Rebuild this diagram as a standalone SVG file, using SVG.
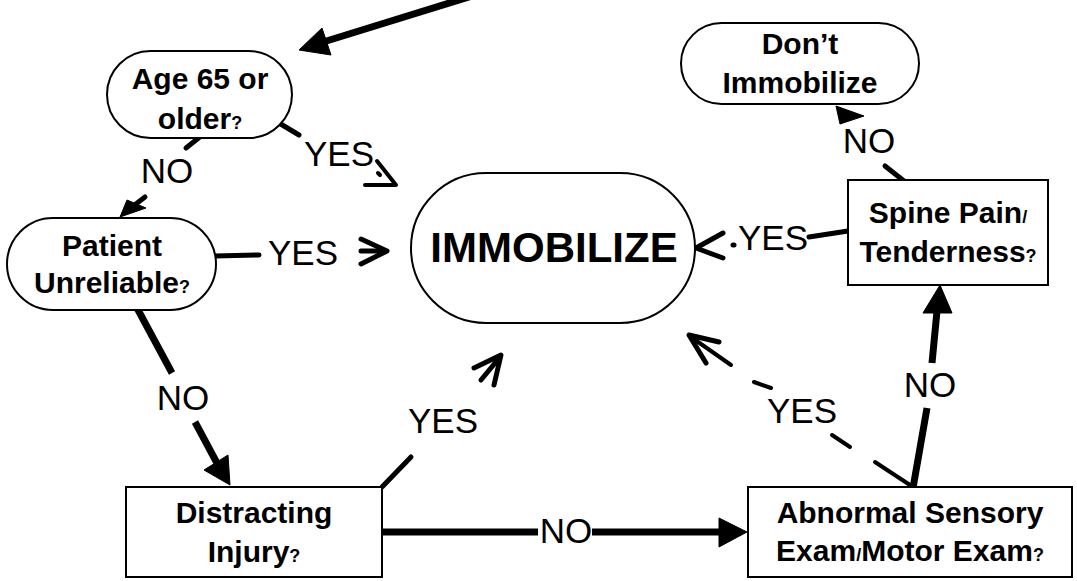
<svg xmlns="http://www.w3.org/2000/svg" width="1077" height="581" viewBox="0 0 1077 581">
<style>
.box{fill:#fff;stroke:#000;stroke-width:2}
.nt{font-family:"Liberation Sans",Arial,sans-serif;font-weight:bold;font-size:30px;text-anchor:middle;fill:#000}
.big{font-size:42px}
.q{font-size:18px}
.lbl{font-family:"Liberation Sans",Arial,sans-serif;font-size:35px;text-anchor:middle;fill:#000}
.ln{stroke:#000;stroke-width:5;fill:none;stroke-linecap:round;stroke-linejoin:round}
.thk{stroke-width:7;stroke-linecap:butt}
.thin{stroke-width:4}
.ah{fill:#000;stroke:#000;stroke-width:1;stroke-linejoin:round}
</style>
<rect width="1077" height="581" fill="#fff"/>
<g id="connectors">
  <!-- entry arrow -->
  <line class="ln thk" x1="472" y1="-4" x2="320" y2="43"/>
  <polygon class="ah" points="299,50 322,28 331,55"/>
  <!-- age -> patient NO -->
  <line class="ln" x1="201" y1="136" x2="186" y2="148"/>
  <line class="ln" x1="145" y1="197" x2="132" y2="207"/>
  <polygon class="ah" points="120,217 127,200 146,208"/>
  <!-- age -> immobilize YES -->
  <line class="ln" x1="279" y1="123" x2="299" y2="135"/>
  <polyline class="ln thin" points="377,161 396,185 365,185"/>
  <line class="ln thin" x1="378" y1="173" x2="380" y2="175"/>
  <!-- patient -> immobilize YES -->
  <line class="ln" x1="215" y1="256" x2="259" y2="255"/>
  <polyline class="ln" points="361,239 387,251 361,264"/>
  <line class="ln" x1="361" y1="251" x2="384" y2="251"/>
  <!-- patient -> distracting NO -->
  <line class="ln thk" x1="137" y1="308" x2="172" y2="373"/>
  <line class="ln thk" x1="195" y1="422" x2="218" y2="465"/>
  <polygon class="ah" points="230,485 204,470 228,455"/>
  <!-- distracting -> immobilize YES -->
  <line class="ln" x1="382" y1="487" x2="411" y2="457"/>
  <polyline class="ln" points="474,368 501,355 494,385"/>
  <line class="ln" x1="481" y1="380" x2="500" y2="357"/>
  <!-- distracting -> abnormal NO -->
  <line class="ln thk" x1="382" y1="532" x2="538" y2="532"/>
  <line class="ln thk" x1="592" y1="532" x2="721" y2="532"/>
  <polygon class="ah" points="747,532 719,518 719,547"/>
  <!-- abnormal -> spine NO -->
  <line class="ln thk" x1="913" y1="488" x2="927" y2="408"/>
  <line class="ln thk" x1="932" y1="363" x2="937" y2="311"/>
  <polygon class="ah" points="940,285 923,313 952,313"/>
  <!-- abnormal -> immobilize YES dashed -->
  <line class="ln thin" x1="913" y1="487" x2="875" y2="462"/>
  <line class="ln thin" x1="850" y1="447" x2="832" y2="435"/>
  <line class="ln thin" x1="771" y1="388" x2="754" y2="382"/>
  <line class="ln thin" x1="731" y1="365" x2="691" y2="337"/>
  <polyline class="ln" points="719,342 689,335 706,363"/>
  <!-- spine -> immobilize YES -->
  <line class="ln" x1="848" y1="231" x2="809" y2="237"/>
  <polyline class="ln" points="723,233 696,248 723,258"/>
  <line class="ln" x1="733" y1="245" x2="734" y2="245" stroke-width="3"/>
  <!-- spine -> don't NO -->
  <line class="ln" x1="904" y1="181" x2="885" y2="166"/>
  <polygon class="ah" points="836,106 864,116 840,124"/>
</g>
<g id="labels">
  <text class="lbl" x="167" y="183">NO</text>
  <text class="lbl" x="339" y="166">YES</text>
  <text class="lbl" x="303" y="265">YES</text>
  <text class="lbl" x="183" y="410">NO</text>
  <text class="lbl" x="443" y="433">YES</text>
  <text class="lbl" x="566" y="543">NO</text>
  <text class="lbl" x="802" y="423">YES</text>
  <text class="lbl" x="930" y="397">NO</text>
  <text class="lbl" x="773" y="250">YES</text>
  <text class="lbl" x="869" y="153">NO</text>
</g>
<g id="node-age">
  <rect class="box" x="107" y="51" width="185" height="87" rx="43.5"/>
  <text class="nt" x="200" y="89">Age 65 or</text>
  <text class="nt" x="200" y="129">older<tspan class="q">?</tspan></text>
</g>
<g id="node-patient">
  <rect class="box" x="7" y="218" width="209" height="92" rx="46"/>
  <text class="nt" x="112" y="256">Patient</text>
  <text class="nt" x="112" y="293">Unreliable<tspan class="q">?</tspan></text>
</g>
<g id="node-immobilize">
  <rect class="box" x="411" y="173" width="284" height="150" rx="75"/>
  <text class="nt big" x="554" y="262">IMMOBILIZE</text>
</g>
<g id="node-dont">
  <rect class="box" x="681" y="23" width="238" height="81" rx="40.5"/>
  <text class="nt" x="800" y="54">Don’t</text>
  <text class="nt" x="800" y="93">Immobilize</text>
</g>
<g id="node-spine">
  <rect class="box" x="848" y="180" width="200" height="105"/>
  <text class="nt" x="948" y="223">Spine Pain<tspan class="q">/</tspan></text>
  <text class="nt" x="948" y="262">Tenderness<tspan class="q">?</tspan></text>
</g>
<g id="node-distracting">
  <rect class="box" x="126" y="487" width="256" height="90"/>
  <text class="nt" x="254" y="523">Distracting</text>
  <text class="nt" x="254" y="562">Injury<tspan class="q">?</tspan></text>
</g>
<g id="node-abnormal">
  <rect class="box" x="748" y="487" width="324" height="90"/>
  <text class="nt" x="910" y="523">Abnormal Sensory</text>
  <text class="nt" x="910" y="561">Exam<tspan class="q">/</tspan>Motor Exam<tspan class="q">?</tspan></text>
</g>
</svg>
